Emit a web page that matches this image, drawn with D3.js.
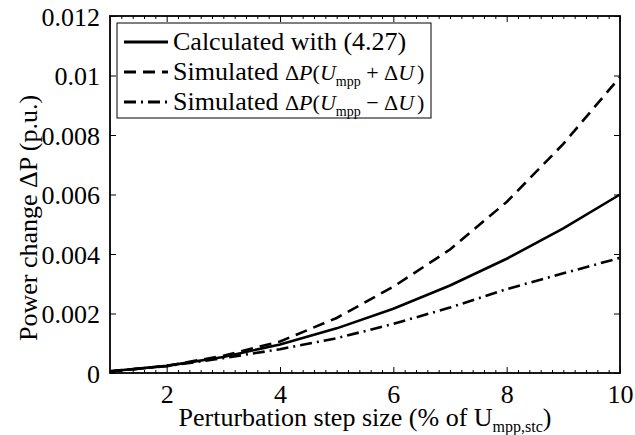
<!DOCTYPE html>
<html>
<head>
<meta charset="utf-8">
<script src="https://cdn.jsdelivr.net/npm/d3@7"></script>
<style>
  html, body { margin: 0; padding: 0; background: #fff; }
  svg { display: block; }
  svg text { font-family: "Liberation Serif", "Times New Roman", Times, serif !important; fill: #000; }
</style>
</head>
<body>
<div id="chart"></div>
<script>
// ---- data ----
const stepSizes = [1, 2, 3, 4, 5, 6, 7, 8, 9, 10];
const calculated = [0.00006, 0.00024, 0.00054, 0.00096, 0.0015, 0.00216, 0.00294, 0.00384, 0.00486, 0.0060];
const simPlus = [0.00005, 0.00024, 0.00058, 0.00106, 0.00185, 0.00290, 0.00415, 0.00575, 0.00770, 0.00995];
const simMinus = [0.00006, 0.00023, 0.00050, 0.00080, 0.00117, 0.00165, 0.00220, 0.00282, 0.00335, 0.00387];
const xTicks = [2, 4, 6, 8, 10];
const yTicks = [0, 0.002, 0.004, 0.006, 0.008, 0.01, 0.012];
const yTickLabels = ["0", "0.002", "0.004", "0.006", "0.008", "0.01", "0.012"];
const xLabel = "Perturbation step size (% of U";
const xLabelSub = "mpp,stc";
const yLabel = "Power change \u0394P (p.u.)";

const W = 635, H = 435;
const mLeft = 110, mRight = 620, mTop = 16, mBottom = 373;
const SERIF = "'Liberation Serif', 'Times New Roman', Times, serif";

const svg = d3.select("#chart").append("svg").attr("width", W).attr("height", H)
  .attr("font-family", SERIF);

const x = d3.scaleLinear().domain([1, 10]).range([mLeft, mRight]);
const y = d3.scaleLinear().domain([0, 0.012]).range([mBottom, mTop]);

const FS = 26;

// minor ticks on x every 0.2
const xMinor = d3.range(1.2, 10, 0.2).filter(v => Math.abs(v - Math.round(v / 2) * 2) > 1e-6);

// bottom axis
const gB = svg.append("g").attr("transform", `translate(0,${mBottom})`)
  .call(d3.axisBottom(x).tickValues(xTicks).tickSize(-6).tickPadding(12).tickFormat(d3.format("d")));
const gBm = svg.append("g").attr("transform", `translate(0,${mBottom})`)
  .call(d3.axisBottom(x).tickValues(xMinor).tickSize(-3).tickFormat(""));
// top axis
const gT = svg.append("g").attr("transform", `translate(0,${mTop})`)
  .call(d3.axisTop(x).tickValues(xTicks).tickSize(-6).tickFormat(""));
const gTm = svg.append("g").attr("transform", `translate(0,${mTop})`)
  .call(d3.axisTop(x).tickValues(xMinor).tickSize(-3).tickFormat(""));
// left axis
const gL = svg.append("g").attr("transform", `translate(${mLeft},0)`)
  .call(d3.axisLeft(y).tickValues(yTicks).tickSize(-6).tickPadding(10)
    .tickFormat((d, i) => yTickLabels[i]));
// right axis
const gR = svg.append("g").attr("transform", `translate(${mRight},0)`)
  .call(d3.axisRight(y).tickValues(yTicks).tickSize(-6).tickFormat(""));

[gB, gBm, gT, gTm, gL, gR].forEach(g => {
  g.attr("font-family", SERIF).attr("font-size", FS);
  g.select(".domain").remove();
  g.selectAll(".tick line").attr("stroke", "#000").attr("stroke-width", 1);
  g.selectAll("text").attr("fill", "#000");
});
gB.selectAll("text").attr("dy", "0.71em");
gL.selectAll("text").attr("dy", "0.35em");

// frame
svg.append("rect").attr("x", mLeft).attr("y", mTop)
  .attr("width", mRight - mLeft).attr("height", mBottom - mTop)
  .attr("fill", "none").attr("stroke", "#000").attr("stroke-width", 1.8);

// lines
const line = d3.line().x((d, i) => x(stepSizes[i])).y(d => y(d));
const series = [
  { values: calculated, dash: null },
  { values: simPlus, dash: "12,7" },
  { values: simMinus, dash: "12,5,2,5" }
];
series.forEach(s => {
  svg.append("path").datum(s.values).attr("d", line)
    .attr("fill", "none").attr("stroke", "#000").attr("stroke-width", 2.6)
    .attr("stroke-dasharray", s.dash);
});

// legend
const lg = svg.append("g");
lg.append("rect").attr("x", 117).attr("y", 23).attr("width", 314).attr("height", 95)
  .attr("fill", "#fff").attr("stroke", "#000").attr("stroke-width", 1);
const rows = [42, 72, 102];
series.forEach((s, i) => {
  lg.append("line").attr("x1", 124).attr("x2", 168).attr("y1", rows[i]).attr("y2", rows[i])
    .attr("stroke", "#000").attr("stroke-width", 2.8).attr("stroke-dasharray", s.dash);
});
lg.append("text").attr("x", 173).attr("y", rows[0] + 8).attr("font-size", FS)
  .text("Calculated with (4.27)");
function mathRow(yy, sign) {
  const t = lg.append("text").attr("x", 173).attr("y", yy + 8).attr("font-size", FS);
  t.append("tspan").text("Simulated ");
  const m = 22;
  t.append("tspan").attr("font-size", m).text("\u0394");
  t.append("tspan").attr("font-size", m).attr("font-style", "italic").text("P");
  t.append("tspan").attr("font-size", m).text("(");
  t.append("tspan").attr("font-size", m).attr("font-style", "italic").text("U");
  t.append("tspan").attr("font-size", 14).attr("dy", 6).text("mpp");
  t.append("tspan").attr("font-size", m).attr("dy", -6).text(" " + sign + " \u0394");
  t.append("tspan").attr("font-size", m).attr("font-style", "italic").text("U");
  t.append("tspan").attr("font-size", m).attr("dx", 3).text(")");
}
mathRow(rows[1], "+");
mathRow(rows[2], "\u2212");

// axis labels
const xl = svg.append("text").attr("x", (mLeft + mRight) / 2).attr("y", 426)
  .attr("text-anchor", "middle").attr("font-size", FS);
xl.append("tspan").text(xLabel);
xl.append("tspan").attr("font-size", 16).attr("dy", 6).text(xLabelSub);
xl.append("tspan").attr("dy", -6).text(")");

svg.append("text").attr("transform", `translate(37,218) rotate(-90)`)
  .attr("text-anchor", "middle").attr("font-size", 26).text(yLabel);
</script>
</body>
</html>
